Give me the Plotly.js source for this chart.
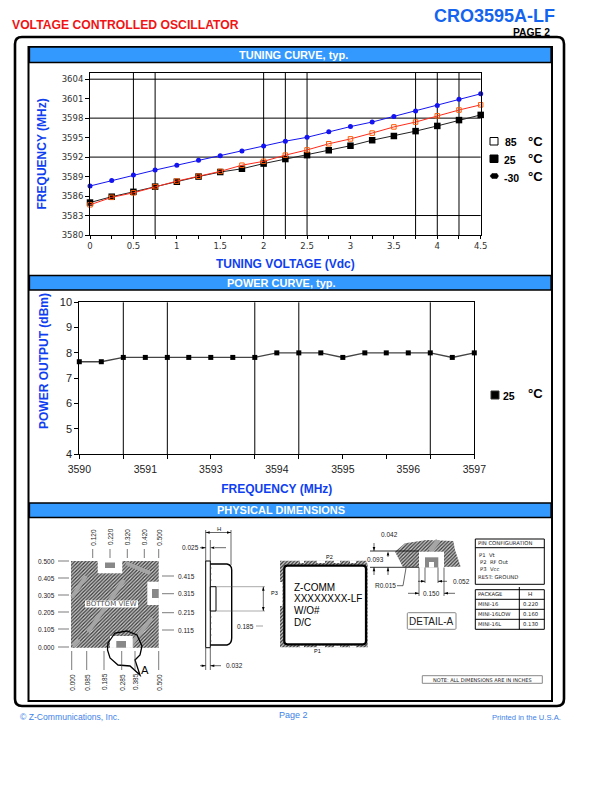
<!DOCTYPE html>
<html>
<head>
<meta charset="utf-8">
<script src="https://cdn.plot.ly/plotly-3.0.1.min.js"></script>
<style>body{margin:0;background:#fff}#plot{width:612px;height:792px}</style>
</head>
<body>
<div id="plot"></div>
<script>
// Tuning curve
const tuneVolts = [0,0.25,0.5,0.75,1,1.25,1.5,1.75,2,2.25,2.5,2.75,3,3.25,3.5,3.75,4,4.25,4.5];
const freqCold = [3587.55,3588.4,3589.25,3590.0,3590.75,3591.5,3592.2,3592.95,3593.7,3594.45,3595.05,3595.9,3596.7,3597.4,3598.25,3599.1,3599.95,3600.9,3601.75];
const freqRoom = [3585.0,3585.9,3586.65,3587.45,3588.2,3589.0,3589.7,3590.2,3591.0,3591.7,3592.3,3593.05,3593.75,3594.6,3595.25,3596.0,3596.8,3597.7,3598.5];
const freqHot = [3584.65,3585.8,3586.5,3587.45,3588.3,3589.05,3589.8,3590.75,3591.35,3592.3,3593.1,3594.05,3594.8,3595.7,3596.65,3597.4,3598.35,3599.25,3600.05];
const tuneVoltTicks = [0,0.5,1,1.5,2,2.5,3,3.5,4,4.5];
const tuneVoltLabels = ["0","0.5","1","1.5","2","2.5","3","3.5","4","4.5"];
const tuneFreqTicks = [3580,3583,3586,3589,3592,3595,3598,3601,3604];
const tuneVoltGrid = [0.5,0.75,2,2.25,2.5,3.75,4,4.25];
const tuneFreqGrid = [3583,3592,3598,3604];

// Power curve
const powerFreq = [3590,3590.39,3590.78,3591.17,3591.56,3591.94,3592.33,3592.72,3593.11,3593.5,3593.89,3594.28,3594.67,3595.06,3595.44,3595.83,3596.22,3596.61,3597];
const powerOut = [7.65,7.65,7.82,7.82,7.82,7.82,7.82,7.82,7.82,8,8,8,7.82,8,8,8,8,7.82,8];
const powerLabelPos = [3590,3591.17,3592.33,3593.5,3594.67,3595.83,3597];
const powerLabels = ["3590","3591","3593","3594","3595","3596","3597"];
const powerTickPos = [3590,3590.78,3591.56,3592.33,3593.11,3593.89,3594.67,3595.44,3596.22,3597];
const powerGrid = [3590.78,3591.56,3593.11,3593.89,3596.22];
const powerTicksY = [4,5,6,7,8,9,10];

// Dimension labels
const pinLines = ["P1  Vt","P2  RF Out","P3  Vcc","REST: GROUND"];
const packNames = ["MINI-16","MINI-16LOW","MINI-16L"];
const packHeights = ["0.220","0.160","0.130"];

const W = 612, H = 792;
const shapes = [], notes = [];
const BLUE_T = "#0f3ff0", BAR = "#3399ff", LINK = "#3d82e8";
const SANS = "Liberation Sans", WIDE = "DejaVu Sans";

// helpers, everything in page pixels through the hidden x3/y3 axes
function line(x0, y0, x1, y1, w, c) {
  shapes.push({type:"line", xref:"x3", yref:"y3", x0, y0, x1, y1, line:{color:c||"#000", width:w||1}});
}
function rect(x0, y0, x1, y1, fill, w, c) {
  shapes.push({type:"rect", xref:"x3", yref:"y3", x0, y0, x1, y1, fillcolor:fill||"rgba(0,0,0,0)",
    line:{color:c||"#000", width:w===undefined?1:w}});
}
function path(d, fill, w, c) {
  shapes.push({type:"path", xref:"x3", yref:"y3", path:d, fillcolor:fill||"rgba(0,0,0,0)",
    line:{color:c||"#000", width:w===undefined?1:w}});
}
function poly(pts, fill, w, c) {
  path("M" + pts.map(p => p.join(",")).join("L") + "Z", fill, w, c);
}
function roundBox(x0, y0, x1, y1, r, fill, w, c) {
  path(`M${x0+r},${y0}L${x1-r},${y0}Q${x1},${y0} ${x1},${y0+r}L${x1},${y1-r}Q${x1},${y1} ${x1-r},${y1}L${x0+r},${y1}Q${x0},${y1} ${x0},${y1-r}L${x0},${y0+r}Q${x0},${y0} ${x0+r},${y0}Z`, fill, w, c);
}
function txt(text, x, y, size, o) {
  o = o || {};
  notes.push({text, x, y, xref:"x3", yref:"y3", showarrow:false, borderpad:0,
    xanchor:o.anchor||"center", yanchor:"middle", textangle:o.angle||0, bgcolor:o.bg,
    font:{family:o.family||SANS, size, color:o.color||"#000", weight:o.bold?"bold":"normal"}});
}
function arrowH(x, y, dir) { poly([[x,y],[x-dir*4,y-1.3],[x-dir*4,y+1.3]], "#000", 0); }
function arrowV(x, y, dir) { poly([[x,y],[x-1.3,y-dir*4],[x+1.3,y-dir*4]], "#000", 0); }

const hatchTraces = [];
function hatch(pts) {
  hatchTraces.push({x:pts.map(p=>p[0]), y:pts.map(p=>p[1]), xaxis:"x3", yaxis:"y3", type:"scatter",
    mode:"lines", line:{width:0}, fill:"toself", hoverinfo:"skip", showlegend:false,
    fillcolor:"#bdbdbd", fillpattern:{shape:"/", size:2.5, solidity:0.5, fgcolor:"#3a3a3a", bgcolor:"#cfcfcf"}});
}

// page furniture
txt("VOLTAGE CONTROLLED OSCILLATOR", 125, 24.5, 12.2, {bold:true, color:"#f01414"});
txt("CRO3595A-LF", 494.5, 16, 18, {bold:true, color:"#1464f0"});
txt("PAGE 2", 531, 32, 10.3, {bold:true});
roundBox(15, 37, 564, 706, 7, null, 2.6);
rect(28.5, 47, 552, 701, null, 2);
[[47,62.5,"TUNING CURVE, typ.",293.5,55],[275.5,290,"POWER CURVE, typ.",281,283],[503,517.5,"PHYSICAL DIMENSIONS",281,510]].forEach(b => {
  rect(29.5, b[0], 551, b[1], BAR, 1.3);
  txt(b[2], b[3], b[4], 11, {bold:true, color:"#fff"});
});
txt("\u00a9 Z-Communications, Inc.", 19, 716.5, 8.6, {anchor:"left", color:LINK});
txt("Page 2", 293, 714.5, 9, {color:LINK});
txt("Printed in the U.S.A.", 562, 717.5, 7.6, {anchor:"right", color:LINK});

// legends
rect(490, 137.5, 498, 145, "#fff", 1);
rect(490, 155, 498, 162.5, "#000", 1);
path("M490,176L492,173.5L497,173.5L498.5,176L497,178.5L492,178.5Z", "#000", 0.5);
txt("85", 511, 142, 10.5, {bold:true});
txt("25", 510, 160, 10.5, {bold:true});
txt("-30", 511, 177.5, 10.5, {bold:true});
[141,158,176.5].forEach(y => txt("\u00b0C", 535.5, y, 13, {bold:true}));
rect(491, 391, 499, 399, "#000", 1, "#333");
txt("25", 509, 396, 10.5, {bold:true});
txt("\u00b0C", 535.5, 393, 13, {bold:true});
txt("POWER OUTPUT (dBm)", 44, 361, 12, {bold:true, color:BLUE_T, angle:-90});

// bottom view
hatch([[71,561],[158.7,561],[158.7,647.7],[71,647.7]]);
[[[73,646],[79,640]],[[88,632],[124,580]],[[130,646],[152,618]],[[72,597],[86,576]],[[126,563],[150,573]]].forEach(b =>
  line(b[0][0], b[0][1], b[1][0], b[1][1], 4, "#a5a5a5"));
rect(97.7, 561, 122.3, 573.3, "#fff", 0);
rect(105, 562.5, 115, 568, "#888", 0);
rect(147.3, 581.7, 158.9, 605, "#fff", 0);
rect(152, 589, 158.7, 598, "#888", 0);
rect(110, 636, 132.7, 647.9, "#fff", 0);
rect(116.3, 641, 126, 647.7, "#888", 0);
rect(85, 600.5, 138, 607.5, "#fff", 0);
txt("BOTTOM VIEW", 111.5, 604, 7, {family:WIDE, color:"#555"});
poly([[108,643],[115,633],[127,631],[137,635],[142,646],[140,655],[135,660],[140,675],[130,666],[118,665],[110,658],[107.5,650]], null, 1.3);
txt("A", 145, 670, 11, {family:WIDE});

[["0.500",561],["0.405",578],["0.305",595],["0.205",612],["0.105",629],["0.000",647]].forEach(d => {
  txt(d[0], 46.5, d[1], 6.5, {color:"#222"});
  line(58, d[1], 69, d[1], 0.7, "#444");
});
[["0.415",576],["0.315",593.7],["0.215",612.7],["0.115",630]].forEach(d => {
  txt(d[0], 186, d[1], 6.5, {color:"#222"});
  line(162, d[1], 174, d[1], 0.7, "#444");
});
[["0.120",92.7],["0.220",110],["0.320",127.3],["0.420",144.3],["0.500",158.7]].forEach(d => {
  txt(d[0], d[1], 537, 6.5, {color:"#222", angle:-90});
  line(d[1], 549, d[1], 558, 0.7, "#444");
});
[["0.000",71.7],["0.085",86.7],["0.185",104],["0.285",121.7],["0.385",135],["0.500",158.7]].forEach(d => {
  txt(d[0], d[1], 682, 6.5, {color:"#222", angle:-90});
  line(d[1], 651, d[1], 670, 0.7, "#444");
});

// side view
rect(205.7, 561, 210.3, 647.7, "#fff", 1);
path("M210.3,564L227,564Q231.7,565 231.7,570L231.7,638Q231.7,644 227,645L210.3,645", null, 1.4);
rect(210.3, 586.7, 216, 611, "#fff", 1);
[568,574,580,617,623,629,635,641].forEach(y => line(210.3, y, 212, y, 0.5, "#555"));
line(205.7, 530, 205.7, 561, 0.6); line(231, 530, 231, 565, 0.6);
line(205.7, 532.5, 231, 532.5, 0.6); arrowH(205.7, 532.5, -1); arrowH(231, 532.5, 1);
txt("H", 218.7, 528.5, 6, {color:"#222"});
txt("0.025", 190, 547.7, 6.5, {color:"#222"});
line(200, 547.7, 205.7, 547.7, 0.6); arrowH(205.7, 547.7, 1);
line(210.3, 540, 210.3, 561, 0.6); line(215, 547.7, 226, 547.7, 0.6); arrowH(210.3, 547.7, -1);
line(216, 586.7, 265, 586.7, 0.5, "#555"); line(216, 611, 265, 611, 0.5, "#555");
line(263.3, 586.7, 263.3, 611, 0.6); arrowV(263.3, 586.7, -1); arrowV(263.3, 611, 1);
txt("0.185", 245, 626, 6.5, {color:"#222"}); line(256, 626, 263, 626, 0.6, "#666");
line(205.7, 648, 205.7, 670, 0.6); line(210.3, 648, 210.3, 670, 0.6);
line(200, 665.7, 205.7, 665.7, 0.6); arrowH(205.7, 665.7, 1);
line(210.3, 665.7, 221, 665.7, 0.6); arrowH(210.3, 665.7, -1);
txt("0.032", 234, 665.7, 6.5, {color:"#222"});

// top view of package
hatch([[280,560.7],[367.7,560.7],[367.7,647.3],[280,647.3]]);
[[300,304],[317,325],[334,340],[350,356]].forEach(s => {
  rect(s[0], 560.4, s[1], 563, "#fff", 0);
  rect(s[0], 645.5, s[1], 647.6, "#fff", 0);
});
[[582,606]].forEach(s => rect(279.7, s[0], 282.5, s[1], "#fff", 0));
roundBox(284.3, 565.7, 366, 644.3, 3, "#fff", 2.2);
path("M350.2,575.3a2.5,2.5 0 1,0 5,0a2.5,2.5 0 1,0 -5,0Z", "#000", 0);
[["Z-COMM",587],["XXXXXXXX-LF",598.7],["W/O#",610.3],["D/C",622.3]].forEach(t =>
  txt(t[0], 293.3, t[1], 10, {anchor:"left"}));
txt("P2", 329, 556.7, 5.5); txt("P3", 274, 593, 5.5); txt("P1", 317.3, 651.3, 5.5);

// detail A
hatch([[395,551.7],[405,543.3],[426.7,540],[453.3,541],[455,550],[460.7,566.7],[403,567.3]]);
line(438, 540.5, 430, 551, 5, "#a5a5a5");
rect(419, 551.7, 444, 567.5, "#fff", 0);
rect(425, 557.3, 438.3, 567.5, "#888", 0);
rect(429, 562, 434, 567.5, "#fff", 0);
line(370, 551, 419, 551, 0.8); line(370, 567.3, 419, 567.3, 0.8);
line(374, 543, 374, 551, 0.6); arrowV(374, 551, 1);
line(388, 553, 388, 557, 0.6); arrowV(388, 551.5, -1);
line(374, 567.3, 374, 575, 0.6); arrowV(374, 567.3, -1);
line(388, 567.3, 388, 575, 0.6); arrowV(388, 567.3, -1);
txt("0.042", 389, 534, 6.5, {color:"#222"});
txt("0.093", 375, 559.7, 6.5, {color:"#222", bg:"#fff"});
txt("R0.015", 385, 585.7, 6.5, {color:"#222"});
path("M397,585.7L403,585.7L406,568", null, 0.6);
[[419,596],[444,596],[425,583],[438,583]].forEach(v => line(v[0], 567.5, v[0], v[1], 0.6));
line(418, 581.3, 425, 581.3, 0.6); arrowH(425, 581.3, 1);
line(438, 581.3, 447, 581.3, 0.6); arrowH(438, 581.3, -1);
txt("0.052", 461, 581.3, 6.5, {color:"#222"});
line(408, 593.3, 419, 593.3, 0.6); arrowH(419, 593.3, 1);
line(444, 593.3, 455, 593.3, 0.6); arrowH(444, 593.3, -1);
txt("0.150", 431, 593.3, 6.5, {color:"#222"});
roundBox(407.3, 612.7, 456, 629.3, 1, "#fff", 1, "#888");
txt("DETAIL-A", 431.6, 621, 10, {color:"#222"});

// pin and package tables
rect(475.3, 539, 544.3, 584.3, "#fff", 1);
line(475.3, 547.7, 544.3, 547.7, 1);
txt("PIN CONFIGURATION", 477.3, 543, 5.3, {anchor:"left", family:WIDE, color:"#222"});
[[478.3,554.7],[479,562],[479,569],[477.3,576.7]].forEach((p,i) =>
  txt(pinLines[i], p[0], p[1], 5.3, {anchor:"left", family:WIDE, color:"#222"}));
rect(475.3, 589.7, 544.3, 629.3, "#fff", 1);
[599.3,609.3,619.3].forEach(y => line(475.3, y, 544.3, y, 1));
line(519.3, 587, 519.3, 629.3, 1);
txt("PACKAGE", 477.3, 594, 5.3, {anchor:"left", family:WIDE, color:"#222"});
txt("H", 530, 594, 6, {color:"#222"});
packNames.forEach((n,i) => {
  const y = 604 + i * 10;
  txt(n, 477, y, 5.3, {anchor:"left", family:WIDE, color:"#222"});
  txt(packHeights[i], 531.3, y, 5.3, {family:WIDE, color:"#222"});
});
rect(422.3, 675.7, 542.3, 683.3, "#fff", 1, "#888");
txt("NOTE: ALL DIMENSIONS ARE IN INCHES", 482.3, 679.5, 5, {family:WIDE, color:"#222"});

// grid lines of the two charts
function vGrid(values, xref, yref) {
  values.forEach(v => shapes.push({type:"line", layer:"below", xref, yref:yref+" domain", x0:v, x1:v, y0:0, y1:1, line:{color:"#000", width:1}}));
}
function hGrid(values, xref, yref) {
  values.forEach(v => shapes.push({type:"line", layer:"below", xref:xref+" domain", yref, y0:v, y1:v, x0:0, x1:1, line:{color:"#000", width:1}}));
}
vGrid(tuneVoltGrid, "x", "y");
hGrid(tuneFreqGrid, "x", "y");
vGrid(powerGrid, "x2", "y2");

const traces = [
  {x:tuneVolts, y:freqRoom, type:"scatter", mode:"lines+markers", name:"25 \u00b0C", cliponaxis:false,
    line:{color:"#222", width:1}, marker:{symbol:"square", size:6.5, color:"#000"}},
  {x:tuneVolts, y:freqHot, type:"scatter", mode:"lines+markers", name:"85 \u00b0C", cliponaxis:false,
    line:{color:"#ff2a1a", width:1}, marker:{symbol:"square-open", size:4.5, color:"#ff5a00", line:{width:1}}},
  {x:tuneVolts, y:freqCold, type:"scatter", mode:"lines+markers", name:"-30 \u00b0C", cliponaxis:false,
    line:{color:"#1414f0", width:1}, marker:{symbol:"circle", size:5, color:"#1414f0"}},
  {x:powerFreq, y:powerOut, xaxis:"x2", yaxis:"y2", type:"scatter", mode:"lines+markers", name:"25 \u00b0C", cliponaxis:false,
    line:{color:"#444", width:1.4}, marker:{symbol:"square", size:5, color:"#000"}}
].concat(hatchTraces);

const axisBase = {showline:true, linecolor:"#000", linewidth:1, showgrid:false, zeroline:false, ticks:"outside", tickcolor:"#000", fixedrange:true};
const smallTick = {family:WIDE, size:8.5, color:"#333"};
const bigTick = {family:SANS, size:10.5, color:"#222"};

const layout = {
  width:W, height:H, margin:{l:0,r:0,t:0,b:0}, autosize:false, showlegend:false,
  paper_bgcolor:"#fff", plot_bgcolor:"rgba(0,0,0,0)", hovermode:false,
  xaxis:Object.assign({}, axisBase, {domain:[90/W,480.7/W], anchor:"y", range:[0,4.5], mirror:true,
    tickmode:"array", tickvals:tuneVoltTicks, ticktext:tuneVoltLabels, ticklen:3, tickfont:smallTick,
    minor:{tickmode:"array", tickvals:tuneVolts, ticks:"outside", ticklen:3, tickcolor:"#000"},
    title:{text:"TUNING VOLTAGE (Vdc)", standoff:9, font:{family:SANS, size:12, color:BLUE_T, weight:"bold"}}}),
  yaxis:Object.assign({}, axisBase, {domain:[1-235/H,1-72.7/H], anchor:"x", range:[3580,3605], mirror:true,
    tickmode:"array", tickvals:tuneFreqTicks, ticklen:4, tickfont:smallTick,
    title:{text:"FREQUENCY (MHz)", standoff:12, font:{family:SANS, size:12, color:BLUE_T, weight:"bold"}}}),
  xaxis2:Object.assign({}, axisBase, {domain:[79.3/W,474.3/W], anchor:"y2", range:[3590,3597], mirror:true,
    tickmode:"array", tickvals:powerLabelPos, ticktext:powerLabels, ticks:"", tickfont:bigTick, ticklabelstandoff:5,
    minor:{tickmode:"array", tickvals:powerTickPos, ticks:"outside", ticklen:4, tickcolor:"#000"},
    title:{text:"FREQUENCY (MHz)", standoff:11, font:{family:SANS, size:12, color:BLUE_T, weight:"bold"}}}),
  yaxis2:Object.assign({}, axisBase, {domain:[1-454/H,1-302.3/H], anchor:"x2", range:[4,10], mirror:true,
    tickmode:"array", tickvals:powerTicksY, ticklen:4, tickfont:{family:SANS, size:11, color:"#222"}}),
  xaxis3:{domain:[0,1], range:[0,W], anchor:"y3", visible:false, fixedrange:true},
  yaxis3:{domain:[0,1], range:[H,0], anchor:"x3", visible:false, fixedrange:true},
  shapes:shapes, annotations:notes
};

Plotly.newPlot("plot", traces, layout, {displayModeBar:false, staticPlot:true});
</script>
</body>
</html>
